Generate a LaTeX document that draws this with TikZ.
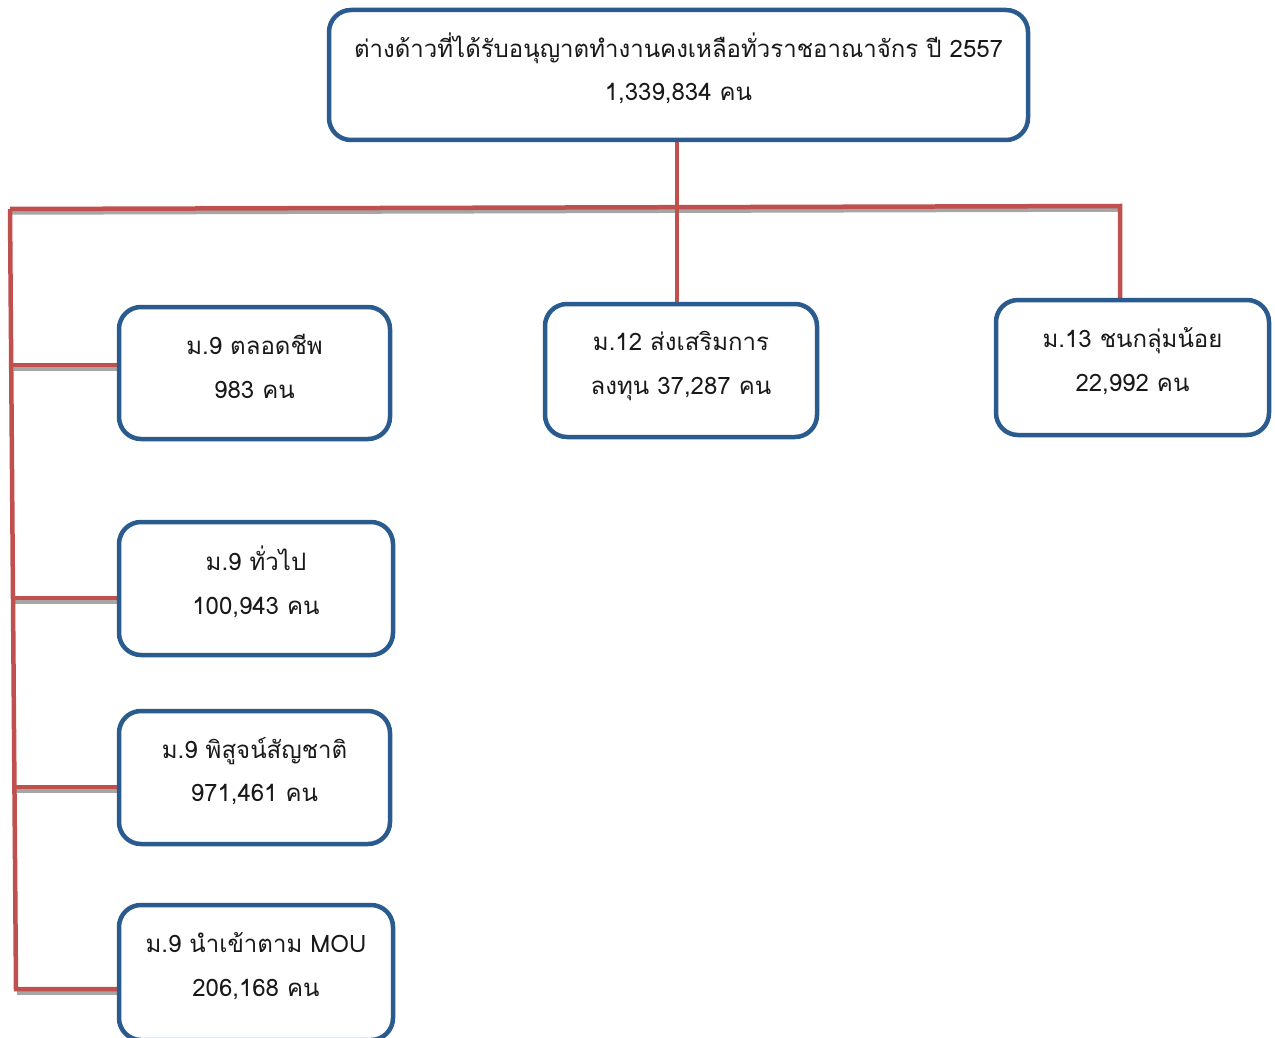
\documentclass[tikz,border=0pt]{standalone}
\usepackage{fontspec}
\setmainfont[Script=Thai]{Loma}
\usetikzlibrary{backgrounds}
\definecolor{boxblue}{HTML}{2A5B8E}
\definecolor{connred}{HTML}{C0504D}
\definecolor{shadowgray}{HTML}{A6A6A6}
\begin{document}
\begin{tikzpicture}[x=1pt,y=-1pt,
  box/.style={draw=boxblue, line width=4.5pt, rounded corners=22pt, fill=white,
    inner sep=0pt},
  boxtext/.style={align=center, inner sep=0pt, text=black!90, yshift=6.5pt,
    font=\fontsize{24}{43.5}\selectfont},
  conn/.style={draw=connred, line width=4.5pt},
  shadowline/.style={draw=shadowgray, line width=4.5pt}]
\useasboundingbox (0,0) rectangle (1275,1038);
\clip (0,0) rectangle (1275,1038);

\node[box, minimum width=699pt, minimum height=130pt,
  label={[boxtext, name=ttop]center:ต่างด้าวที่ได้รับอนุญาตทำงานคงเหลือทั่วราชอาณาจักร ปี 2557\\1,339,834 คน}]
  (top) at (678.5,75) {};
\node[box, minimum width=271pt, minimum height=132pt,
  label={[boxtext, name=t1]center:ม.9 ตลอดชีพ\\983 คน}] (b1) at (254.5,373) {};
\node[box, minimum width=272pt, minimum height=133pt,
  label={[boxtext, name=t2, yshift=-2pt]center:ม.12 ส่งเสริมการ\\ลงทุน 37,287 คน}] (b2) at (681,370.5) {};
\node[box, minimum width=273pt, minimum height=135pt,
  label={[boxtext, name=t3]center:ม.13 ชนกลุ่มน้อย\\22,992 คน}] (b3) at (1132.5,367.5) {};
\node[box, minimum width=274pt, minimum height=133pt,
  label={[boxtext, name=t4]center:ม.9 ทั่วไป\\100,943 คน}] (b4) at (256,588.5) {};
\node[box, minimum width=271pt, minimum height=133pt,
  label={[boxtext, name=t5]center:ม.9 พิสูจน์สัญชาติ\\971,461 คน}] (b5) at (254.5,777.5) {};
\node[box, minimum width=274pt, minimum height=135pt,
  label={[boxtext, name=t6]center:ม.9 นำเข้าตาม MOU\\206,168 คน}] (b6) at (256,972.5) {};

\coordinate (hl) at (10,209);
\coordinate (hm) at (677,207.5);
\coordinate (hr) at (1120,206);
\coordinate (v1) at (11.5,365);
\coordinate (v4) at (13,598);
\coordinate (v5) at (14.5,787);
\coordinate (v6) at (16,989);

\begin{scope}[on background layer]
  \fill[white] (0,0) rectangle (1275,1038);
  \begin{scope}[transform canvas={xshift=1pt,yshift=-3.5pt}]
    \draw[shadowline] (hl) -- (hr);
    \draw[shadowline] (v1) -- (v1 -| b1.west);
    \draw[shadowline] (v4) -- (v4 -| b4.west);
    \draw[shadowline] (v5) -- (v5 -| b5.west);
    \draw[shadowline] (v6) -- (v6 -| b6.west);
  \end{scope}
  \draw[conn] (hm |- top.south) -- (hm |- b2.north);
  \draw[conn] (hl) -- (hr) -- (hr |- b3.north);
  \draw[conn] (hl) -- (v6) -- (v6 -| b6.west);
  \draw[conn] (v1) -- (v1 -| b1.west);
  \draw[conn] (v4) -- (v4 -| b4.west);
  \draw[conn] (v5) -- (v5 -| b5.west);
\end{scope}
\end{tikzpicture}
\end{document}
